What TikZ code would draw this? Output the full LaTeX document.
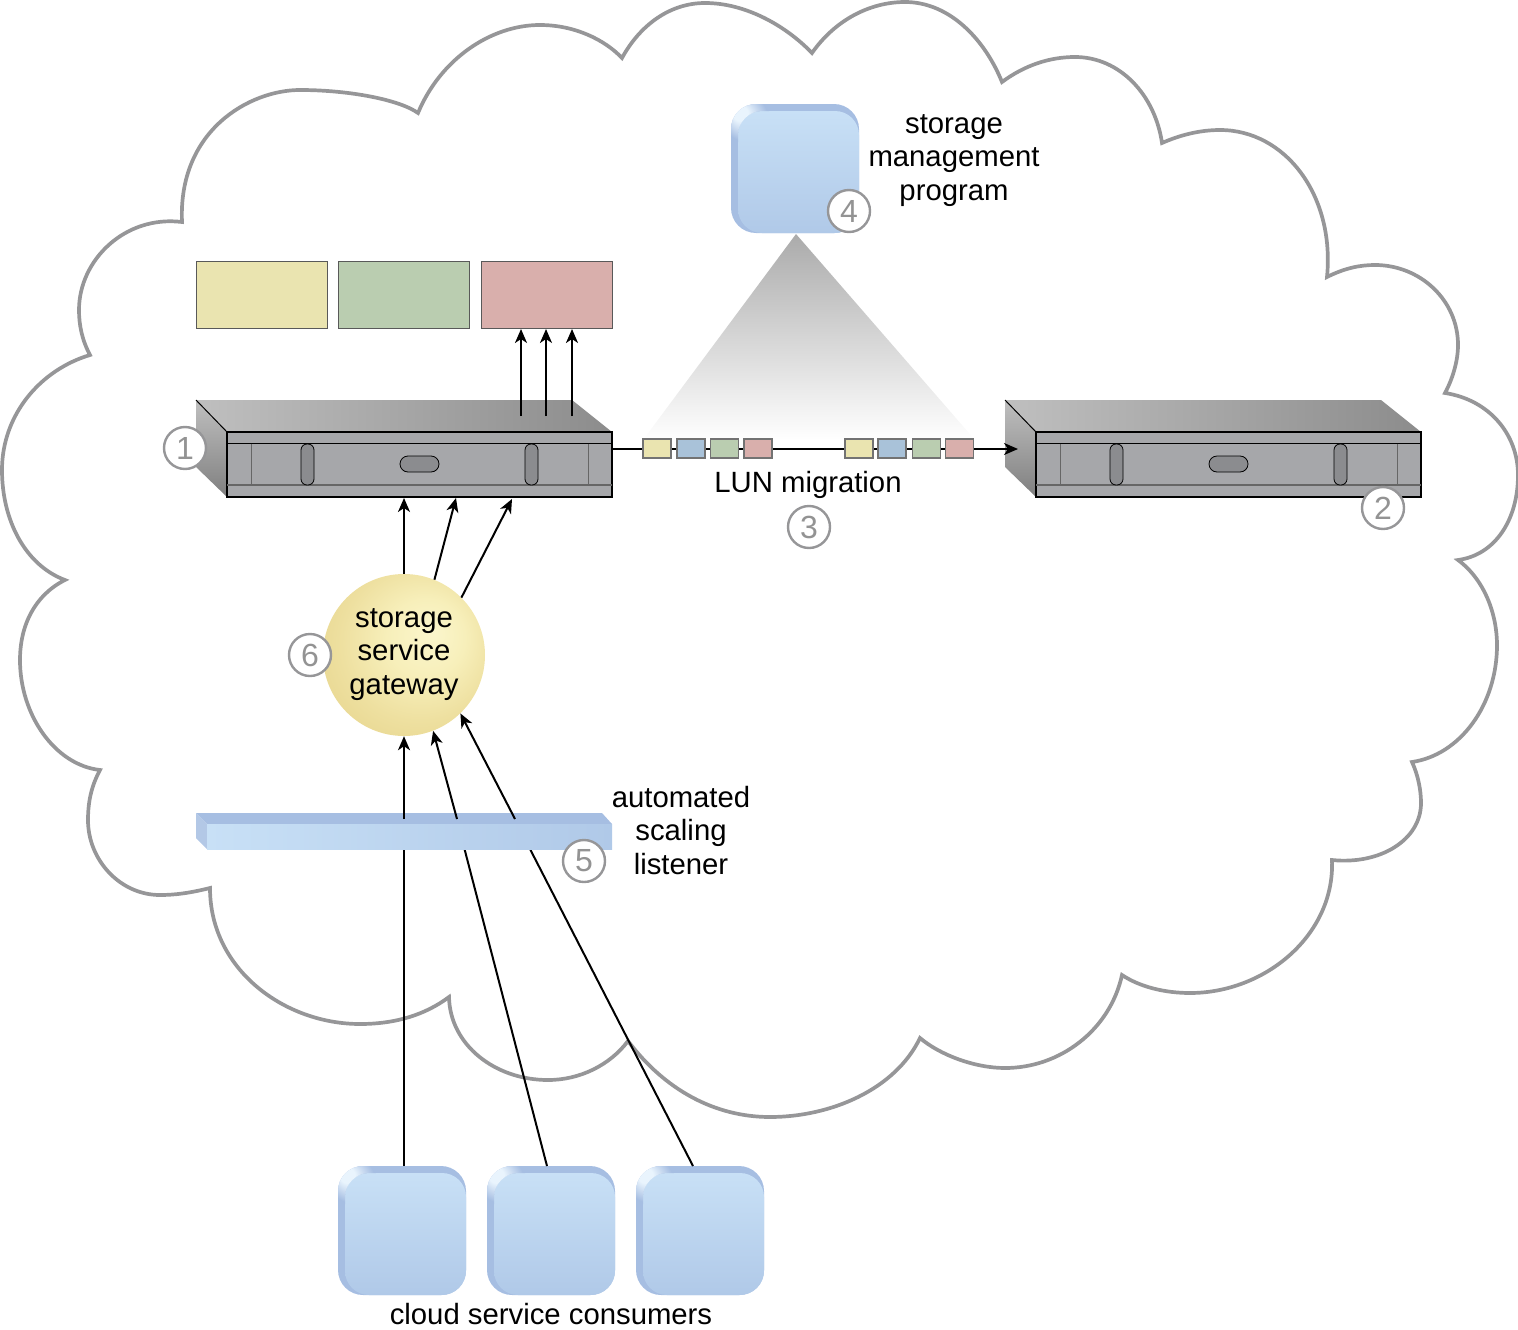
\documentclass[tikz,border=0pt]{standalone}
\usepackage{fontspec}
\setmainfont{Liberation Sans}
\usetikzlibrary{arrows.meta,calc}
\definecolor{cloudc}{HTML}{969698}
\definecolor{deep}{HTML}{A6BEE2}
\definecolor{bluetop}{HTML}{C8E0F6}
\definecolor{bluebot}{HTML}{B0C9E8}
\definecolor{srv}{HTML}{A6A7AA}
\definecolor{pill}{HTML}{8B8C8F}
\definecolor{cy}{HTML}{EAE4B0}
\definecolor{cb}{HTML}{A9C2D9}
\definecolor{cg}{HTML}{BACDB0}
\definecolor{cr}{HTML}{D9AFAC}
\definecolor{hilite}{HTML}{E9F4FD}
\definecolor{ga}{HTML}{FBF6CC}
\definecolor{gb}{HTML}{F7EFBA}
\definecolor{gc}{HTML}{EEE0A0}
\definecolor{gd}{HTML}{E6D48C}
\definecolor{ge}{HTML}{E2CE80}
\pgfdeclareradialshading{gwshade}{\pgfpoint{9bp}{7bp}}{color(0bp)=(ga);color(12bp)=(gb);color(24bp)=(gc);color(36bp)=(gd);color(50bp)=(ge)}
\pgfdeclareradialshading{cornershade}{\pgfpoint{-16bp}{16bp}}{color(0bp)=(hilite);color(10bp)=(hilite);color(30bp)=(deep);color(50bp)=(deep)}
\tikzset{
  x=1pt,y=-1pt,
  lbl/.style={align=center,font=\fontsize{29.3}{33.5}\selectfont,inner sep=0pt},
  conn/.style={line width=2pt,black},
  arr/.style={conn,-{Stealth[length=14pt,width=12pt,inset=4pt]}},
  num/.style={circle,draw=cloudc,line width=2.4pt,fill=white,minimum size=42pt,inner sep=0pt,text=gray!85,font=\fontsize{32}{32}\selectfont},
  big/.style={draw=black!65,line width=1pt,minimum width=131pt,minimum height=67pt,inner sep=0pt},
  chip/.style={draw=black!55,line width=1.3pt,minimum width=28pt,minimum height=19pt,inner sep=0pt},
  backbox/.style={fill=deep,rounded corners=25pt,minimum width=128pt,minimum height=129pt,inner sep=0pt},
  frontbox/.style={top color=bluetop,bottom color=bluebot,rounded corners=24pt,minimum width=121pt,minimum height=122pt,inner sep=0pt},
  vpill/.style={fill=pill,draw=black,line width=.8pt,rounded corners=6pt},
}
\newcommand{\soft}[3]{% name, x, y of top-left corner of the back shape
  \node[backbox] (#1) at (#2+64,#3+64.5) {};
  \node[frontbox] (#1f) at (#2+67.5,#3+68) {};
  \shade[shading=cornershade] (#2,#3+38) -- (#2,#3+25) .. controls (#2,#3+11) and (#2+11,#3) .. (#2+25,#3) -- (#2+38,#3) -- (#2+38,#3+7) -- (#2+31,#3+7) .. controls (#2+18,#3+7) and (#2+7,#3+18) .. (#2+7,#3+31) -- (#2+7,#3+38) -- cycle;
}
\newcommand{\server}[2]{% name, x offset
  \shade[left color=black!25,right color=black!45] (#2+196,400) -- (#2+572,400) -- (#2+612,432) -- (#2+227,432) -- cycle;
  \shade[top color=black!25,bottom color=black!50] (#2+196,400) -- (#2+227,432) -- (#2+227,497) -- (#2+196,467) -- cycle;
  \draw[black,line width=1pt] (#2+196,400) -- (#2+227,432);
  \node[draw=black,line width=1.7pt,fill=srv,minimum width=385pt,minimum height=65pt,inner sep=0pt] (#1) at (#2+419.5,464.5) {};
  \draw[black,line width=1pt] (#2+227,443.5) -- (#2+612,443.5);
  \draw[black!60,line width=1.6pt] (#2+227,485) -- (#2+612,485);
  \draw[black!60,line width=1pt] (#2+251,443.5) -- (#2+251,485) (#2+588,443.5) -- (#2+588,485);
  \draw[vpill] (#2+301,444) rectangle (#2+314,485);
  \draw[vpill] (#2+525,444) rectangle (#2+538,485);
  \draw[vpill,rounded corners=8pt] (#2+400,456) rectangle (#2+439,472);
}
\begin{document}
\begin{tikzpicture}
\useasboundingbox (0,0) rectangle (1518,1330);
% cloud
\draw[cloudc,line width=3.7pt,line join=miter]
 (182,222) .. controls (178,130) and (250,90) .. (300,90) .. controls (350,90) and (400,100) .. (418,113)
 .. controls (440,60) and (490,25) .. (540,25) .. controls (575,25) and (605,40) .. (622,58)
 .. controls (640,25) and (670,3) .. (705,3) .. controls (745,3) and (785,25) .. (812,53)
 .. controls (835,20) and (870,2) .. (905,2) .. controls (950,2) and (985,40) .. (1002,82)
 .. controls (1025,65) and (1050,57) .. (1075,57) .. controls (1120,57) and (1155,95) .. (1162,143)
 .. controls (1180,135) and (1200,130) .. (1220,130) .. controls (1285,130) and (1335,195) .. (1327,277)
 .. controls (1345,268) and (1360,265) .. (1375,265) .. controls (1420,265) and (1458,300) .. (1458,345) .. controls (1458,362) and (1452,380) .. (1445,393)
 .. controls (1490,400) and (1518,435) .. (1518,475) .. controls (1518,520) and (1495,555) .. (1458,560)
 .. controls (1485,580) and (1497,615) .. (1497,645) .. controls (1497,705) and (1460,755) .. (1412,762)
 .. controls (1418,775) and (1421,790) .. (1421,803) .. controls (1421,840) and (1380,865) .. (1332,860)
 .. controls (1335,935) and (1265,993) .. (1190,993) .. controls (1165,993) and (1140,987) .. (1122,975)
 .. controls (1110,1030) and (1060,1068) .. (1005,1068) .. controls (975,1068) and (940,1055) .. (920,1038)
 .. controls (895,1090) and (830,1117) .. (770,1117) .. controls (715,1117) and (665,1090) .. (628,1041)
 .. controls (610,1065) and (580,1080) .. (548,1080) .. controls (495,1080) and (450,1045) .. (449,997)
 .. controls (425,1015) and (395,1024) .. (360,1024) .. controls (285,1024) and (210,970) .. (210,888)
 .. controls (190,893) and (175,895) .. (160,895) .. controls (120,895) and (88,860) .. (88,820) .. controls (88,800) and (92,785) .. (100,770)
 .. controls (55,765) and (20,715) .. (20,660) .. controls (20,625) and (35,595) .. (65,580)
 .. controls (25,565) and (2,520) .. (2,470) .. controls (2,415) and (40,370) .. (90,355)
 .. controls (82,340) and (79,325) .. (79,310) .. controls (79,260) and (125,215) .. (182,222) -- cycle;
% triangle
\shade[top color=black!33,bottom color=white] (796,234) -- (975,440) -- (643,440) -- cycle;
% large boxes
\node[big,fill=cy] (ry) at (262,294.5) {};
\node[big,fill=cg] (rg) at (404,294.5) {};
\node[big,fill=cr] (rr) at (547,294.5) {};
% servers
\server{s1}{0}
\server{s2}{809}
% program box
\soft{prog}{731}{104}
% consumers
\soft{c1}{338}{1166}
\soft{c2}{487}{1166}
\soft{c3}{636}{1166}
% gateway
\node[circle,shade,shading=gwshade,minimum size=162pt,inner sep=0pt] (gw) at (404,655) {};
\node[lbl] (tgw) at (404,654.3) {storage\\service\\gateway};
% named ends
\coordinate (a1) at (521,416); \coordinate (b1) at (521,329);
\coordinate (a2) at (546,416); \coordinate (b2) at (546,329);
\coordinate (a3) at (572,416); \coordinate (b3) at (572,329);
\coordinate (t1) at (404,498); \coordinate (t2) at (456,498); \coordinate (t3) at (512,499);
\coordinate (u1) at (404,1166); \coordinate (u2) at (547,1166); \coordinate (u3) at (693,1166);
\coordinate (m1) at (404,849); \coordinate (m2) at (464.5,849); \coordinate (m3) at (530,849);
\coordinate (k1) at (404,819); \coordinate (k2) at (457,819); \coordinate (k3) at (515,819);
\coordinate (e1) at (612,449); \coordinate (e2) at (1018,449);
\draw[arr] (a1) -- (b1);
\draw[arr] (a2) -- (b2);
\draw[arr] (a3) -- (b3);
\draw[arr] (gw.north) -- (t1);
\draw[arr] (gw.68) -- (t2);
\draw[arr] (gw.45) -- (t3);
\draw[conn] (u1) -- (m1);
\draw[conn] (u2) -- (m2);
\draw[conn] (u3) -- (m3);
% listener bar
\fill[deep] (196,813) -- (602,813) -- (612,824) -- (207,824) -- cycle;
\fill[deep!85!white] (196,813) -- (207,824) -- (207,849) -- (196,838) -- cycle;
\shade[left color=bluetop,right color=bluebot] (207,824) rectangle (612,849);
\draw[arr] (k1) -- (gw.south);
\draw[arr] (k2) -- (gw.-69);
\draw[arr] (k3) -- (gw.-46);
% migration
\draw[arr] (e1) -- (e2);
\node[chip,fill=cy] (p1) at (657,448.5) {};
\node[chip,fill=cb] (p2) at (691,448.5) {};
\node[chip,fill=cg] (p3) at (724.5,448.5) {};
\node[chip,fill=cr] (p4) at (758,448.5) {};
\node[chip,fill=cy] (q1) at (859,448.5) {};
\node[chip,fill=cb] (q2) at (892,448.5) {};
\node[chip,fill=cg] (q3) at (926.5,448.5) {};
\node[chip,fill=cr] (q4) at (959.5,448.5) {};
% labels
\node[lbl] (tprog) at (954,160.5) {storage\\management\\program};
\node[lbl] (tlun) at (808,485) {LUN migration};
\node[lbl] (tlis) at (681,830.5) {automated\\scaling\\listener};
\node[lbl,anchor=base] (tcon) at (551,1324) {cloud service consumers};
% numbers
\node[num] (n1) at (185,448) {1};
\node[num] (n2) at (1383,508) {2};
\node[num] (n3) at (809,527) {3};
\node[num] (n4) at (849,211) {4};
\node[num] (n5) at (584,861) {5};
\node[num] (n6) at (310,655) {6};
\end{tikzpicture}
\end{document}
